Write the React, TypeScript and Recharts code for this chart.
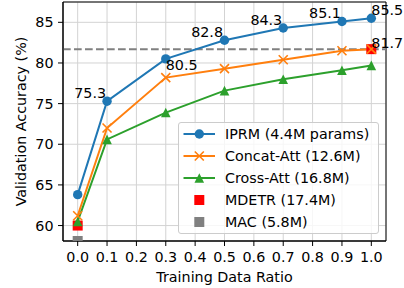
import {
  ComposedChart,
  Line,
  Scatter,
  XAxis,
  YAxis,
  CartesianGrid,
  ReferenceLine,
  ReferenceArea,
  Legend,
  LabelList,
  Label,
} from "recharts";

const ratios = [0.0, 0.1, 0.3, 0.5, 0.7, 0.9, 1.0];
const iprmAcc = [63.8, 75.3, 80.5, 82.8, 84.3, 85.1, 85.5];
const concatAttAcc = [61.2, 72.0, 78.2, 79.3, 80.4, 81.5, 81.7];
const crossAttAcc = [60.5, 70.6, 73.9, 76.6, 78.0, 79.1, 79.7];
const mdetrRatios = [0.0, 1.0];
const mdetrAcc = [60.0, 81.7];
const macRatios = [0.0];
const macAcc = [58.1];
const baselineAcc = 81.7;

const xTicks = [0.0, 0.1, 0.2, 0.3, 0.4, 0.5, 0.6, 0.7, 0.8, 0.9, 1.0];
const yTicks = [60, 65, 70, 75, 80, 85];
const xDomain: [number, number] = [-0.05, 1.05];
const yDomain: [number, number] = [58.1, 87.5];

const FONT = "DejaVu Sans, Verdana, sans-serif";
const FS = 14.3;
const BLUE = "#1f77b4";
const ORANGE = "#ff7f0e";
const GREEN = "#2ca02c";
const RED = "#ff0000";
const GRAY = "#808080";

const toPoints = (xs: number[], ys: number[]) =>
  xs.map((x, i) => ({ ratio: x, acc: ys[i] }));

const iprmData = toPoints(ratios, iprmAcc);
const concatData = toPoints(ratios, concatAttAcc);
const crossData = toPoints(ratios, crossAttAcc);
const mdetrData = toPoints(mdetrRatios, mdetrAcc);
const macData = toPoints(macRatios, macAcc);

type Placement = { anchor: "start" | "end"; dx: number; dy: number } | null;

// where each annotation sits relative to its point
const iprmLabels: Placement[] = [
  null,
  { anchor: "end", dx: -1, dy: -8.3 },
  { anchor: "start", dx: 0, dy: 6 },
  { anchor: "end", dx: -1.5, dy: -8.5 },
  { anchor: "end", dx: -1, dy: -8 },
  { anchor: "end", dx: -1, dy: -8.7 },
  { anchor: "start", dx: 0, dy: -8.2 },
];
const mdetrLabels: Placement[] = [null, { anchor: "start", dx: 0, dy: -6.5 }];

const makeLabel = (placements: Placement[]) => (props: any) => {
  const p = placements[props.index];
  if (!p) return null;
  const vb = props.viewBox ?? props;
  const px = (vb.x ?? props.x) + (vb.width ?? 0) / 2;
  const py = (vb.y ?? props.y) + (vb.height ?? 0) / 2;
  return (
    <text
      key={`lbl-${props.index}`}
      x={px + p.dx}
      y={py + p.dy}
      textAnchor={p.anchor}
      dominantBaseline="central"
      fontSize={FS}
      fontFamily={FONT}
      fill="#000"
    >
      {Number(props.value).toFixed(1)}
    </text>
  );
};

const circleDot = (color: string) => (p: any) => (
  <circle key={`c-${p.index}`} cx={p.cx} cy={p.cy} r={4.7} fill={color} />
);

const crossDot = (color: string) => (p: any) => (
  <path
    key={`x-${p.index}`}
    d={`M${p.cx - 4.5},${p.cy - 4.5}L${p.cx + 4.5},${p.cy + 4.5}M${p.cx - 4.5},${p.cy + 4.5}L${p.cx + 4.5},${p.cy - 4.5}`}
    stroke={color}
    strokeWidth={1.6}
    fill="none"
  />
);

const triangleDot = (color: string) => (p: any) => (
  <path
    key={`t-${p.index}`}
    d={`M${p.cx},${p.cy - 4.8}L${p.cx - 4.8},${p.cy + 4.8}L${p.cx + 4.8},${p.cy + 4.8}Z`}
    fill={color}
  />
);

const squareShape = (color: string) => (p: any) => (
  <rect x={p.cx - 5} y={p.cy - 5} width={10} height={10} fill={color} />
);

const legendItems = [
  { name: "IPRM (4.4M params)", color: BLUE, marker: "circle", line: true },
  { name: "Concat-Att (12.6M)", color: ORANGE, marker: "cross", line: true },
  { name: "Cross-Att (16.8M)", color: GREEN, marker: "triangle", line: true },
  { name: "MDETR (17.4M)", color: RED, marker: "square", line: false },
  { name: "MAC (5.8M)", color: GRAY, marker: "square", line: false },
];

function LegendMarker({ marker, color }: { marker: string; color: string }) {
  const cx = 20.3;
  const cy = 11;
  if (marker === "circle") return <circle cx={cx} cy={cy} r={4.7} fill={color} />;
  if (marker === "cross")
    return (
      <path
        d={`M${cx - 4.5},${cy - 4.5}L${cx + 4.5},${cy + 4.5}M${cx - 4.5},${cy + 4.5}L${cx + 4.5},${cy - 4.5}`}
        stroke={color}
        strokeWidth={1.6}
      />
    );
  if (marker === "triangle")
    return <path d={`M${cx},${cy - 4.8}L${cx - 4.8},${cy + 4.8}L${cx + 4.8},${cy + 4.8}Z`} fill={color} />;
  return <rect x={cx - 5} y={cy - 5} width={10} height={10} fill={color} />;
}

function LegendBox() {
  return (
    <div
      style={{
        background: "rgba(255,255,255,0.8)",
        border: "1px solid #cccccc",
        borderRadius: 3,
        width: 201,
        height: 112,
        boxSizing: "border-box",
        fontFamily: FONT,
        fontSize: FS,
        color: "#000",
      }}
    >
      {legendItems.map((item) => (
        <div
          key={item.name}
          style={{ display: "flex", alignItems: "center", height: 22, whiteSpace: "nowrap" }}
        >
          <svg width={46} height={22} style={{ flex: "none" }}>
            {item.line && (
              <line x1={4.5} x2={36} y1={11} y2={11} stroke={item.color} strokeWidth={2} />
            )}
            <LegendMarker marker={item.marker} color={item.color} />
          </svg>
          <span>{item.name}</span>
        </div>
      ))}
    </div>
  );
}

const tickStyle = { fontSize: FS, fontFamily: FONT, fill: "#000" };

export default function App() {
  return (
    <div style={{ position: "absolute", left: 0, top: 0, background: "#fff" }}>
      <ComposedChart
        width={404}
        height={288}
        margin={{ top: 2, right: 18, left: 0, bottom: 0 }}
      >
        <CartesianGrid stroke="#d3d3d3" strokeWidth={1} />
        <XAxis
          dataKey="ratio"
          type="number"
          domain={xDomain}
          ticks={xTicks}
          tickFormatter={(v: number) => v.toFixed(1)}
          height={47}
          tick={tickStyle}
          tickSize={5}
          tickMargin={6}
          stroke="#000"
          interval={0}
        >
          <Label
            content={(props: any) => {
              const vb = props.viewBox;
              return (
                <text
                  x={vb.x + vb.width / 2}
                  y={vb.y + 36}
                  textAnchor="middle"
                  dominantBaseline="central"
                  fontSize={FS}
                  fontFamily={FONT}
                  fill="#000"
                >
                  Training Data Ratio
                </text>
              );
            }}
          />
        </XAxis>
        <YAxis
          type="number"
          domain={yDomain}
          ticks={yTicks}
          width={63}
          tick={tickStyle}
          tickSize={5}
          tickMargin={4.5}
          stroke="#000"
          interval={0}
        >
          <Label
            content={(props: any) => {
              const vb = props.viewBox;
              const x = vb.x + 21;
              const y = vb.y + vb.height / 2;
              return (
                <text
                  x={x}
                  y={y}
                  transform={`rotate(-90, ${x}, ${y})`}
                  textAnchor="middle"
                  dominantBaseline="central"
                  fontSize={FS}
                  fontFamily={FONT}
                  fill="#000"
                >
                  Validation Accuracy (%)
                </text>
              );
            }}
          />
        </YAxis>
        <YAxis yAxisId="clip" type="number" domain={yDomain} allowDataOverflow hide />
        <ReferenceArea
          x1={xDomain[0]}
          x2={xDomain[1]}
          y1={yDomain[0]}
          y2={yDomain[1]}
          fill="none"
          stroke="#000"
          strokeWidth={1}
        />
        <Scatter
          name="MAC (5.8M)"
          data={macData}
          dataKey="acc"
          yAxisId="clip"
          shape={squareShape(GRAY)}
          isAnimationActive={false}
        />
        <Scatter
          name="MDETR (17.4M)"
          data={mdetrData}
          dataKey="acc"
          shape={squareShape(RED)}
          isAnimationActive={false}
        >
          <LabelList dataKey="acc" content={makeLabel(mdetrLabels)} />
        </Scatter>
        <ReferenceLine
          y={baselineAcc}
          stroke={GRAY}
          strokeWidth={2}
          strokeDasharray="7.7 3.3"
        />
        <Line
          name="IPRM (4.4M params)"
          data={iprmData}
          dataKey="acc"
          stroke={BLUE}
          strokeWidth={2}
          dot={circleDot(BLUE)}
          activeDot={false}
          isAnimationActive={false}
        >
          <LabelList dataKey="acc" content={makeLabel(iprmLabels)} />
        </Line>
        <Line
          name="Concat-Att (12.6M)"
          data={concatData}
          dataKey="acc"
          stroke={ORANGE}
          strokeWidth={2}
          dot={crossDot(ORANGE)}
          activeDot={false}
          isAnimationActive={false}
        />
        <Line
          name="Cross-Att (16.8M)"
          data={crossData}
          dataKey="acc"
          stroke={GREEN}
          strokeWidth={2}
          dot={triangleDot(GREEN)}
          activeDot={false}
          isAnimationActive={false}
        />
        <Legend
          layout="horizontal"
          verticalAlign="middle"
          align="center"
          content={() => <LegendBox />}
          wrapperStyle={{ left: 178, top: 122, width: 201, height: 112 }}
        />
      </ComposedChart>
    </div>
  );
}
